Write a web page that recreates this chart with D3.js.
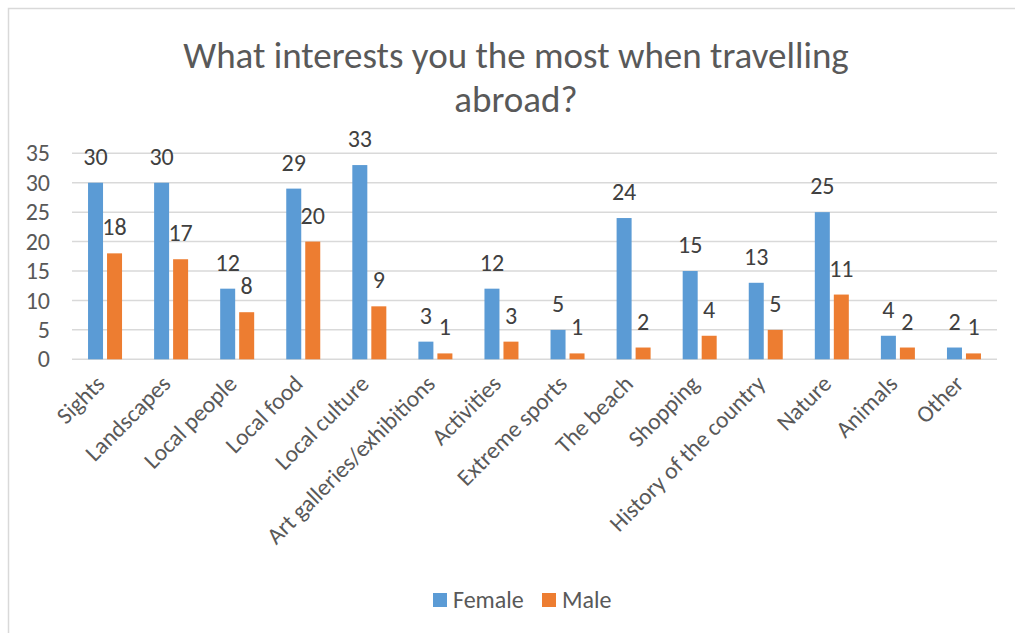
<!DOCTYPE html>
<html>
<head>
<meta charset="utf-8">
<script src="https://cdn.jsdelivr.net/npm/d3@7"></script>
<style>
  html, body { margin: 0; padding: 0; background: #fff; }
  svg { display: block; font-family: Carlito, "Open Sans", sans-serif; }
</style>
</head>
<body>
<svg id="chart" width="1015" height="633"></svg>
<script>
// Survey answers: what people care about most when travelling abroad
const categories = ["Sights", "Landscapes", "Local people", "Local food", "Local culture",
  "Art galleries/exhibitions", "Activities", "Extreme sports", "The beach", "Shopping",
  "History of the country", "Nature", "Animals", "Other"];
const female = [30, 30, 12, 29, 33, 3, 12, 5, 24, 15, 13, 25, 4, 2];
const male   = [18, 17, 8, 20, 9, 1, 3, 1, 2, 4, 5, 11, 2, 1];
const seriesNames = ["Female", "Male"];
const yTicks = [0, 5, 10, 15, 20, 25, 30, 35];
const titleLines = ["What interests you the most when travelling", "abroad?"];

const colors = ["#5B9BD5", "#ED7D31"];
const textColor = "#595959";
const labelColor = "#404040";
const fontStack = 'Carlito, "Open Sans", sans-serif';

const svg = d3.select("#chart");
const W = 1015, H = 633;
const plot = { left: 72, right: 997, top: 153.3, bottom: 359.3 };

// chart frame
svg.append("rect")
  .attr("x", 8.5).attr("y", 8.5)
  .attr("width", W + 10).attr("height", H + 10)
  .attr("fill", "#fff").attr("stroke", "#D9D9D9").attr("stroke-width", 1.5);

// title
svg.append("g").selectAll("text").data(titleLines).join("text")
  .attr("x", 516).attr("y", (d, i) => 68 + i * 44)
  .attr("text-anchor", "middle")
  .attr("fill", textColor)
  .style("font-size", "37px")
  .text(d => d);

const x0 = d3.scaleBand().domain(categories).range([plot.left, plot.right]).paddingInner(0).paddingOuter(0);
const y = d3.scaleLinear().domain([0, 35]).range([plot.bottom, plot.top]);

// gridlines
svg.append("g").selectAll("line").data(yTicks).join("line")
  .attr("x1", plot.left).attr("x2", plot.right)
  .attr("y1", d => y(d)).attr("y2", d => y(d))
  .attr("stroke", "#D9D9D9").attr("stroke-width", 1.5);

// y axis labels
const yAxis = d3.axisLeft(y).tickValues(yTicks).tickSize(0).tickPadding(0);
const yG = svg.append("g").attr("transform", `translate(50,0)`).call(yAxis);
yG.select(".domain").remove();
yG.selectAll("text").attr("fill", textColor).style("font-size", "24px")
  .style("font-family", fontStack);

// bars
const barW = 15, gap = 4;
const values = [female, male];
const offsets = [-(gap / 2) - barW, gap / 2];
values.forEach((vals, s) => {
  const g = svg.append("g");
  g.selectAll("rect").data(vals).join("rect")
    .attr("x", (d, i) => x0(categories[i]) + x0.bandwidth() / 2 + offsets[s])
    .attr("y", d => y(d))
    .attr("width", barW)
    .attr("height", d => y(0) - y(d))
    .attr("fill", colors[s]);
  g.selectAll("text").data(vals).join("text")
    .attr("x", (d, i) => x0(categories[i]) + x0.bandwidth() / 2 + offsets[s] + barW / 2)
    .attr("y", d => y(d) - 18)
    .attr("text-anchor", "middle")
    .attr("fill", labelColor)
    .style("font-size", "24px")
    .text(d => d);
});

// x axis category labels, rotated
const xAxis = d3.axisBottom(x0).tickSize(0).tickPadding(0);
const xG = svg.append("g").attr("transform", `translate(0,${plot.bottom})`).call(xAxis);
xG.select(".domain").remove();
xG.selectAll("text")
  .attr("fill", textColor)
  .style("font-size", "23.5px")
  .style("font-family", fontStack)
  .attr("text-anchor", "end")
  .attr("dy", null)
  .attr("y", 0)
  .attr("transform", "translate(1,26) rotate(-45)");

// legend
const legend = svg.append("g");
const legendX = [433, 542];
seriesNames.forEach((name, i) => {
  legend.append("rect")
    .attr("x", legendX[i]).attr("y", 593)
    .attr("width", 14).attr("height", 14)
    .attr("fill", colors[i]);
  legend.append("text")
    .attr("x", legendX[i] + 20).attr("y", 608)
    .attr("fill", textColor)
    .style("font-size", "24px")
    .text(name);
});
</script>
</body>
</html>
